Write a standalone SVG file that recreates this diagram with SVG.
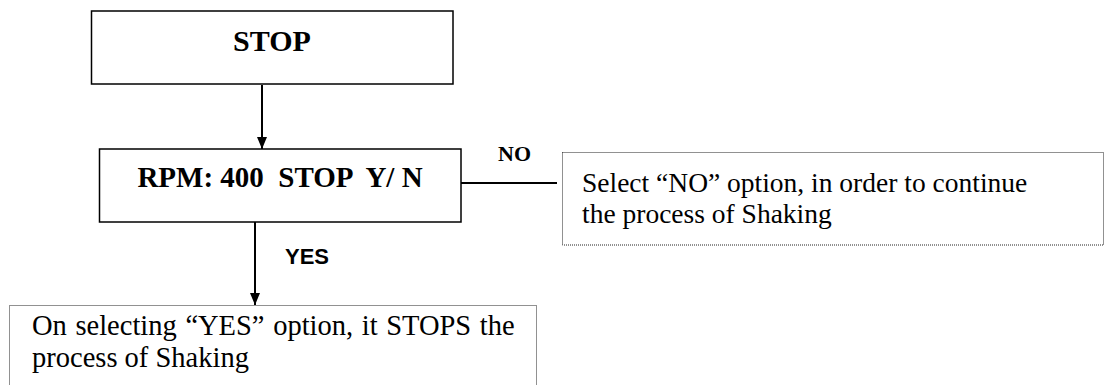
<svg xmlns="http://www.w3.org/2000/svg" width="1105" height="385" viewBox="0 0 1105 385">
<defs>
<style>
.box{fill:#fff;stroke:#000;stroke-width:1.5}
.note{fill:#fff;stroke:#222;stroke-width:1;stroke-dasharray:1,1}
.bt{font-family:"Liberation Serif","Times New Roman",serif;font-weight:bold;fill:#000}
.st{font-family:"Liberation Serif","Times New Roman",serif;fill:#000}
.ss{font-family:"Liberation Sans",Arial,sans-serif;font-weight:bold;font-size:22px;fill:#000}
.ln{stroke:#000;stroke-width:2;fill:none}
</style>
<marker id="ah" viewBox="0 0 12 10" refX="12" refY="5" markerWidth="12" markerHeight="10" markerUnits="userSpaceOnUse" orient="auto">
<path d="M0,0 L12,5 L0,10 Z" fill="#000"/>
</marker>
</defs>
<rect width="1105" height="385" fill="#fff"/>
<g id="connectors">
<line class="ln" x1="262" y1="85" x2="262" y2="149" marker-end="url(#ah)"/>
<line class="ln" x1="461" y1="183" x2="557" y2="183"/>
<line class="ln" x1="255" y1="222" x2="255" y2="305" marker-end="url(#ah)"/>
<text class="bt" x="498" y="161" font-size="22">NO</text>
<text class="ss" x="285" y="264">YES</text>
</g>
<g id="stop">
<rect class="box" x="91.5" y="11" width="361.5" height="73"/>
<text class="bt" x="272" y="50.5" font-size="30" text-anchor="middle">STOP</text>
</g>
<g id="rpm">
<rect class="box" x="99.5" y="149" width="361.5" height="73"/>
<text class="bt" x="280" y="186.5" font-size="29" text-anchor="middle" xml:space="preserve">RPM: 400  STOP  Y/ N</text>
</g>
<g id="no-note">
<rect class="note" x="562.5" y="152.5" width="541" height="92.5"/>
<text class="st" x="582" y="192" font-size="27.5">Select “NO” option, in order to continue</text>
<text class="st" x="582" y="223" font-size="27.5">the process of Shaking</text>
</g>
<g id="yes-note">
<rect class="note" x="9.5" y="305.5" width="527" height="90"/>
<text class="st" x="32" y="335" font-size="28.5" word-spacing="1.5">On selecting “YES” option, it STOPS the</text>
<text class="st" x="32" y="367" font-size="28.5">process of Shaking</text>
</g>
</svg>
